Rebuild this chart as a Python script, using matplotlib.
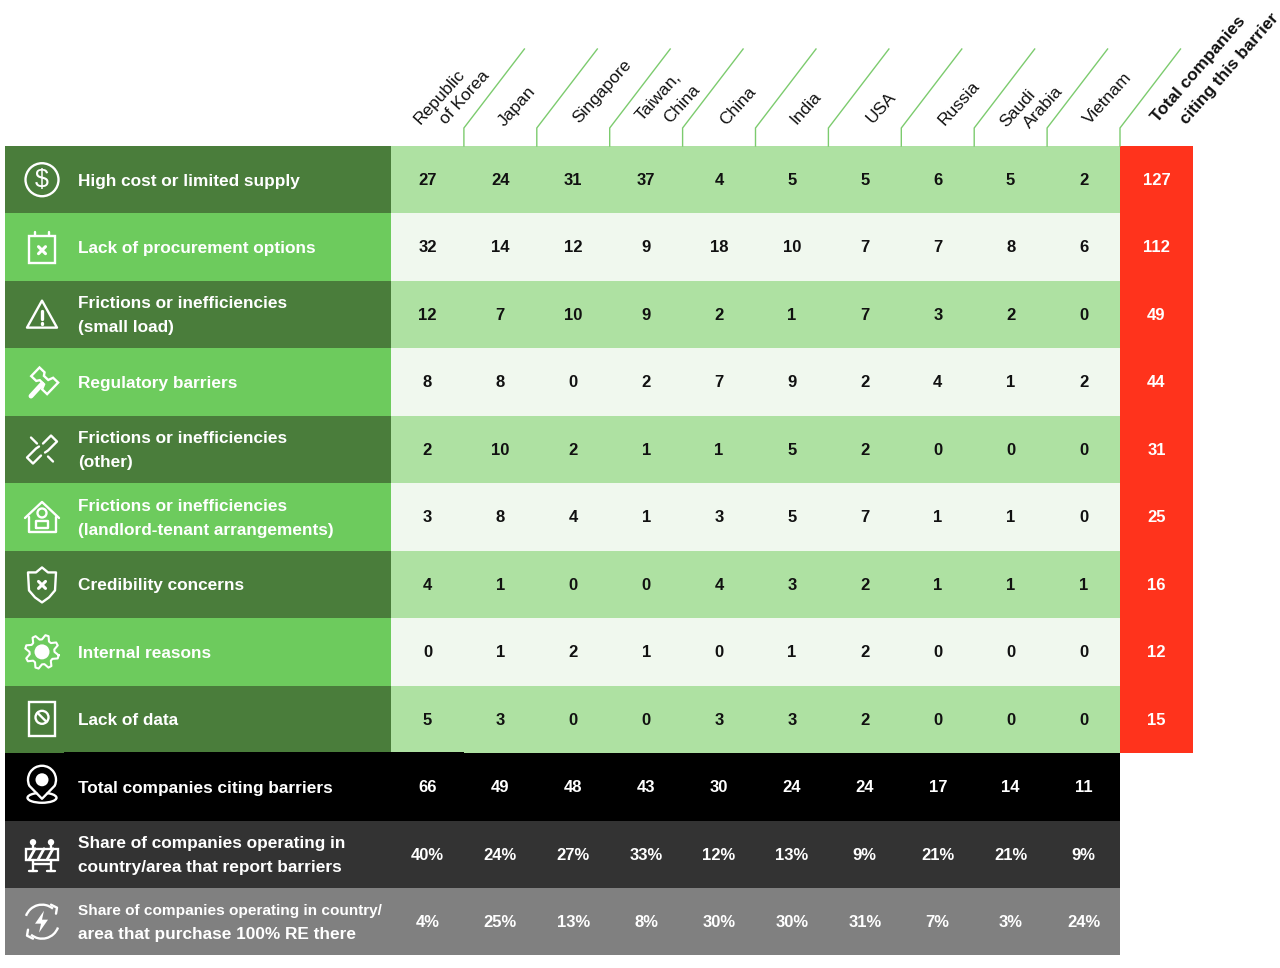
# barrier table, companies by country/area
import matplotlib
matplotlib.use('Agg')
import matplotlib.pyplot as plt
from matplotlib.patches import Circle, Rectangle, Polygon, Ellipse, Arc
import numpy as np

plt.rcParams['font.family'] = ['Liberation Sans', 'DejaVu Sans']

countries = ['Republic\nof Korea', 'Japan', 'Singapore', 'Taiwan,\nChina', 'China',
             'India', 'USA', 'Russia', 'Saudi\nArabia', 'Vietnam']
barriers = ['High cost or limited supply', 'Lack of procurement options',
            'Frictions or inefficiencies\n(small load)', 'Regulatory barriers',
            'Frictions or inefficiencies\n(other)',
            'Frictions or inefficiencies\n(landlord-tenant arrangements)',
            'Credibility concerns', 'Internal reasons', 'Lack of data']
counts = [[27, 24, 31, 37, 4, 5, 5, 6, 5, 2],
          [32, 14, 12, 9, 18, 10, 7, 7, 8, 6],
          [12, 7, 10, 9, 2, 1, 7, 3, 2, 0],
          [8, 8, 0, 2, 7, 9, 2, 4, 1, 2],
          [2, 10, 2, 1, 1, 5, 2, 0, 0, 0],
          [3, 8, 4, 1, 3, 5, 7, 1, 1, 0],
          [4, 1, 0, 0, 4, 3, 2, 1, 1, 1],
          [0, 1, 2, 1, 0, 1, 2, 0, 0, 0],
          [5, 3, 0, 0, 3, 3, 2, 0, 0, 0]]
barrier_totals = [127, 112, 49, 44, 31, 25, 16, 12, 15]
total_citing = [66, 49, 48, 43, 30, 24, 24, 17, 14, 11]
share_report = [40, 24, 27, 33, 12, 13, 9, 21, 21, 9]
share_re = [4, 25, 13, 8, 30, 30, 31, 7, 3, 24]
footer_labels = ['Total companies citing barriers',
                 'Share of companies operating in\ncountry/area that report barriers',
                 'Share of companies operating in country/\narea that purchase 100% RE there']
total_header = 'Total companies\nciting this barrier'

# layout in pixels
left, col0, col_w, top, row_h = 5, 391, 72.9, 146, 67.45
ICON_X = 42
LINE_GAP = 24
BASE = 5.3  # baseline below the centre of a line
dark_green, light_green = '#4A7D3B', '#6DCB5D'
band_green, band_pale = '#AEE1A2', '#F0F8EE'
red = '#FF331C'
footer_colors = ['#000000', '#333333', '#808080']
line_green = '#7CCB6E'

# baseline start of each header line
head_starts = [[(420, 125), (446, 125)], [(505, 127)], [(579, 124)], [(642, 122), (670, 124)],
               [(726, 126)], [(796, 125)], [(873, 124)], [(945, 126)],
               [(1006, 128), (1030, 129)], [(1090, 125)]]
total_starts = [(1158, 123), (1187, 125)]

fig = plt.figure(figsize=(12.8, 9.68), dpi=100, facecolor='w')
ax = fig.add_axes([0, 0, 1, 1])
ax.set_xlim(0, 1280)
ax.set_ylim(968, 0)
ax.axis('off')


def box(x, y, w, h, c, **kw):
    ax.add_patch(Rectangle((x, y), w, h, facecolor=c, edgecolor='none', **kw))


def ln(xs, ys, lw=1.7, c='w'):
    ax.plot(xs, ys, color=c, lw=lw, solid_capstyle='round', solid_joinstyle='round')


def outline(patch):
    patch.set_facecolor('none')
    patch.set_edgecolor('w')
    patch.set_linewidth(1.7)
    ax.add_patch(patch)


def cross(x, y, s=3.5):
    ln([x - s, x + s], [y - s, y + s], 2.2)
    ln([x - s, x + s], [y + s, y - s], 2.2)


# icons, all relative to row centre
def icon_dollar(x, y):
    outline(Circle((x, y), 16.5))
    ax.text(x, y + 0.5, '$', color='w', fontsize=18, ha='center', va='center')


def icon_calendar(x, y):
    outline(Rectangle((x - 13, y - 11), 26, 27))
    ln([x - 7, x - 7], [y - 15, y - 11])
    ln([x + 7, x + 7], [y - 15, y - 11])
    cross(x, y + 3)


def icon_warning(x, y):
    outline(Polygon([[x, y - 14], [x + 15, y + 13], [x - 15, y + 13]], closed=True, joinstyle='round'))
    ln([x, x], [y - 4, y + 4], 2.4)
    ln([x, x], [y + 8.5, y + 9], 2.4)


def icon_hammer(x, y):
    ax_a = np.array([0.72, 0.69])
    ax_p = np.array([0.69, -0.72])
    shape = [(-12, 6), (-5, 6), (-3, 3), (3, 3), (5, 8), (12, 8),
             (12, -8), (5, -8), (3, -3), (-3, -3), (-5, -6), (-12, -6)]
    pts = [np.array([x + 2, y - 2]) + u * ax_a + v * ax_p for u, v in shape]
    outline(Polygon(pts, closed=True))
    ln([x + 0, x - 11], [y + 2, y + 14], 3.5)


def icon_link(x, y):
    ln([x + 1, x + 9, x + 15, x + 6, x + 3], [y - 6, y - 14, y - 8, y + 1, y + 3])
    ln([x - 1, x - 9, x - 15, x - 6, x - 3], [y + 6, y + 14, y + 8, y - 1, y - 3])
    ln([x - 11, x - 5], [y - 12, y - 6])
    ln([x + 6, x + 11], [y + 7, y + 12])


def icon_house(x, y):
    ln([x - 17, x, x + 17], [y + 1, y - 15, y + 1])
    ln([x - 13, x - 13, x + 14, x + 14], [y, y + 15, y + 15, y])
    outline(Circle((x, y - 4), 4.5))
    ln([x - 6, x - 6, x + 6, x + 6, x - 6], [y + 11, y + 4, y + 4, y + 11, y + 11])


def icon_shield(x, y):
    outline(Polygon([[x - 14, y - 12], [x - 6, y - 12], [x, y - 17], [x + 6, y - 12], [x + 14, y - 12],
                     [x + 13, y + 6], [x + 7, y + 13], [x, y + 18], [x - 7, y + 13], [x - 13, y + 6]],
                    closed=True, joinstyle='round'))
    cross(x, y + 0.5)


def icon_gear(x, y):
    angles = np.linspace(0, 2 * np.pi, 33)
    radii = np.where(np.arange(33) % 4 < 2, 17, 12.5)
    ax.plot(x + radii * np.cos(angles + 0.2), y + radii * np.sin(angles + 0.2), color='w', lw=1.5)
    ax.add_patch(Circle((x, y), 7.5, color='w', lw=0))


def icon_nodata(x, y):
    outline(Rectangle((x - 13, y - 17), 26, 34))
    outline(Circle((x, y - 2), 6.5))
    ln([x - 4.5, x + 4.5], [y - 6.5, y + 2.5])


def icon_pin(x, y):
    outline(Ellipse((x, y + 11), 29, 10))
    ax.add_patch(Polygon([[x - 13, y - 7], [x, y + 13], [x + 13, y - 7]],
                         closed=True, facecolor='k', edgecolor='none'))
    ln([x - 12.7, x, x + 12.7], [y - 1, y + 12, y - 1])
    outline(Arc((x, y - 7), 28, 28, theta1=155, theta2=25))
    ax.add_patch(Circle((x, y - 7), 6.5, color='w', lw=0))


def icon_barrier(x, y):
    for off in [-9, 9]:
        ax.add_patch(Circle((x + off, y - 12), 3.2, color='w', lw=0))
        ln([x + off, x + off], [y - 12, y - 5.5])
        ln([x + off, x + off], [y + 5.5, y + 17])
        ln([x + off - 4, x + off + 4], [y + 17, y + 17])
    outline(Rectangle((x - 16, y - 5.5), 32, 11))
    for off in [-10, -1, 8]:
        ln([x + off - 3, x + off + 3], [y + 5.5, y - 5.5], 2)
    ln([x - 9, x + 9], [y + 10, y + 10])


def icon_bolt(x, y):
    outline(Arc((x, y), 34, 34, theta1=200, theta2=310))
    outline(Arc((x, y), 34, 34, theta1=20, theta2=130))
    ln([x + 9, x + 15, x + 14], [y - 17, y - 14, y - 8])
    ln([x - 9, x - 15, x - 14], [y + 17, y + 14, y + 8])
    ax.add_patch(Polygon([[x + 2, y - 11], [x - 7, y + 2], [x - 1, y + 2], [x - 3, y + 11], [x + 6, y - 2], [x, y - 2]],
                         closed=True, color='w', lw=0))


def label(cy, text, size=12.4, first_size=None):
    # each line drawn on its own so the gap stays fixed
    lines = text.split('\n')
    for k, line in enumerate(lines):
        ly = cy + 0.5 + (k - (len(lines) - 1) / 2) * LINE_GAP + BASE
        fs = first_size if (first_size and k == 0) else size
        ax.text(78, ly, line, fontsize=fs, fontweight='bold', ha='left', va='baseline', color='w')


row_icons = [icon_dollar, icon_calendar, icon_warning, icon_hammer, icon_link,
             icon_house, icon_shield, icon_gear, icon_nodata]
footer_icons = [icon_pin, icon_barrier, icon_bolt]

n_cols = len(countries)
n_rows = len(barriers)
cell_font = dict(fontsize=12, fontweight='bold', ha='center', va='baseline')

# barrier rows
for i, name in enumerate(barriers):
    y = top + i * row_h
    cy = y + row_h / 2
    odd = i % 2 == 1
    box(left, y, col0 - left, row_h, light_green if odd else dark_green)
    box(col0, y, col_w * n_cols, row_h, band_pale if odd else band_green)
    box(col0 + col_w * n_cols, y, col_w, row_h, red)
    label(cy, name)
    row_icons[i](ICON_X, cy)
    for j, v in enumerate(counts[i]):
        ax.text(col0 + col_w * (j + 0.5), cy + BASE, str(v), color='#111111', **cell_font)
    ax.text(col0 + col_w * (n_cols + 0.5), cy + BASE, str(barrier_totals[i]), color='w', **cell_font)

# footer rows
footer_values = [[str(v) for v in total_citing],
                 ['%d%%' % v for v in share_report],
                 ['%d%%' % v for v in share_re]]
for i, name in enumerate(footer_labels):
    y = top + (n_rows + i) * row_h
    cy = y + row_h / 2
    box(left, y, col0 - left + col_w * n_cols, row_h, footer_colors[i])
    label(cy, name, first_size=11.1 if i == 2 else None)
    footer_icons[i](ICON_X, cy)
    for j, v in enumerate(footer_values[i]):
        ax.text(col0 + col_w * (j + 0.5), cy + BASE, v, color='w', **cell_font)
# black row starts a pixel higher past the icon column
box(64, top + n_rows * row_h - 1, col0 + col_w - 64, 1.5, '#000000')

# header: slanted dividers and labels
for j in range(n_cols):
    x = col0 + col_w * (j + 1)
    ax.plot([x, x, x + 60.5], [top, 128, 49], color=line_green, lw=1.0, solid_joinstyle='miter')
    for line, (sx, sy) in zip(countries[j].split('\n'), head_starts[j]):
        ax.text(sx, sy, line, rotation=48, rotation_mode='anchor', fontsize=12.5,
                ha='left', va='baseline', color='#111111')
for line, (sx, sy) in zip(total_header.split('\n'), total_starts):
    ax.text(sx, sy, line, rotation=49, rotation_mode='anchor', fontsize=12.4,
            fontweight='bold', ha='left', va='baseline', color='#111111')

fig.savefig('out.png', dpi=100, facecolor='w')
